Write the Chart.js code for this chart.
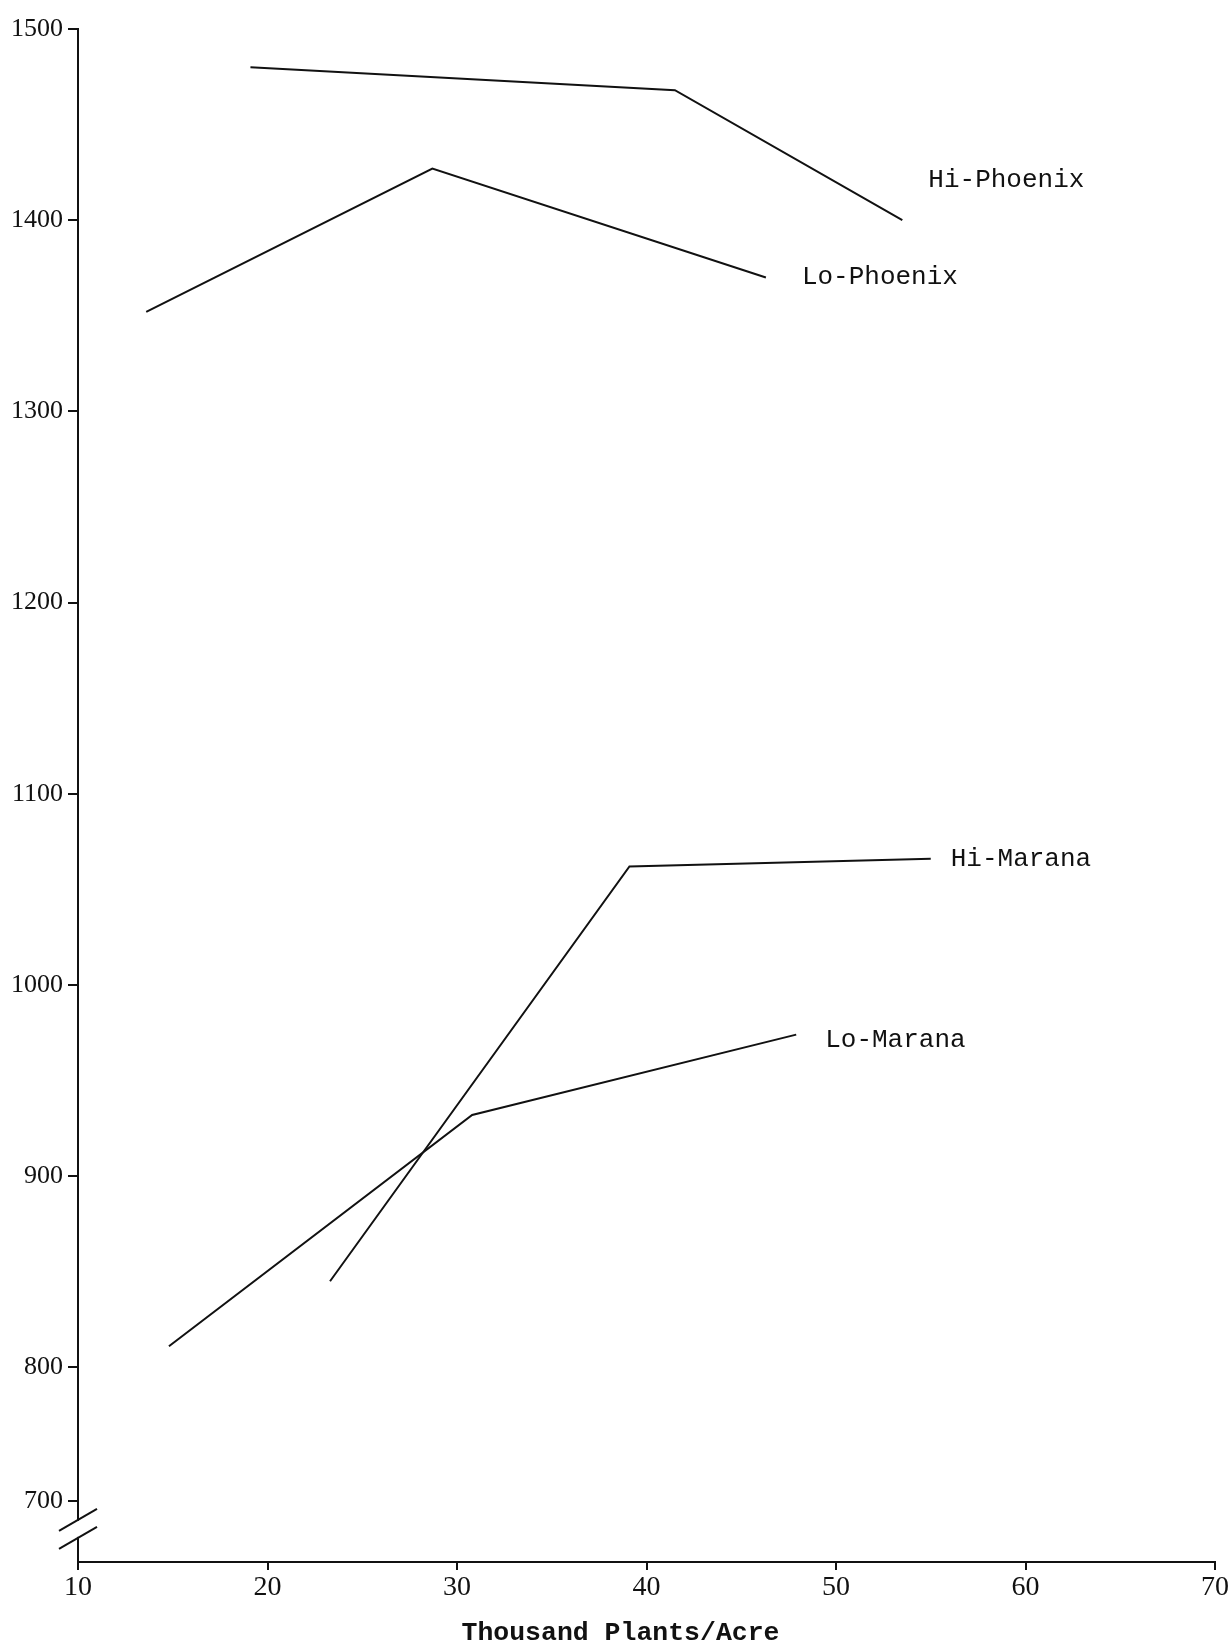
<!DOCTYPE html>
<html>
<head>
<meta charset="utf-8">
<script src="https://cdn.jsdelivr.net/npm/chart.js@4/dist/chart.umd.min.js"></script>
<style>
  body { margin: 0; background: #fff; }
  #wrap { width: 1232px; height: 1647px; position: relative; }
</style>
</head>
<body>
<div id="wrap"><canvas id="chart"></canvas></div>
<script>
// yield vs plant population, four treatments

const seriesNames = ['Hi-Phoenix', 'Lo-Phoenix', 'Hi-Marana', 'Lo-Marana'];

const hiPhoenixX = [19.1, 41.5, 53.5];
const hiPhoenixY = [1480, 1468, 1400];

const loPhoenixX = [13.6, 28.7, 46.3];
const loPhoenixY = [1352, 1427, 1370];

const hiMaranaX = [23.3, 39.1, 55.0];
const hiMaranaY = [845, 1062, 1066];

const loMaranaX = [14.8, 30.8, 47.9];
const loMaranaY = [811, 932, 974];

const xTicks = [10, 20, 30, 40, 50, 60, 70];
const yTicks = [700, 800, 900, 1000, 1100, 1200, 1300, 1400, 1500];
const xTitle = 'Thousand Plants/Acre';

// the y axis is broken below 800, so the bottom part is squeezed
// [value, share of the axis height]
const yBreaks = [[650, 0], [700, 0.040], [800, 0.127], [1500, 1]];

function toDecimal(v) {
  for (let i = 1; i < yBreaks.length; i++) {
    const [v0, d0] = yBreaks[i - 1];
    const [v1, d1] = yBreaks[i];
    if (v <= v1 || i === yBreaks.length - 1) {
      return d0 + (v - v0) / (v1 - v0) * (d1 - d0);
    }
  }
}
function fromDecimal(d) {
  for (let i = 1; i < yBreaks.length; i++) {
    const [v0, d0] = yBreaks[i - 1];
    const [v1, d1] = yBreaks[i];
    if (d <= d1 || i === yBreaks.length - 1) {
      return v0 + (d - d0) / (d1 - d0) * (v1 - v0);
    }
  }
}

class BrokenLinearScale extends Chart.LinearScale {
  getPixelForValue(value) {
    if (value === null || value === undefined || isNaN(value)) return NaN;
    return this.getPixelForDecimal(toDecimal(value));
  }
  getValueForPixel(pixel) {
    return fromDecimal(this.getDecimalForPixel(pixel));
  }
}
BrokenLinearScale.id = 'brokenLinear';
BrokenLinearScale.defaults = Chart.LinearScale.defaults;
Chart.register(BrokenLinearScale);

function points(xs, ys) {
  return xs.map((x, i) => ({ x: x, y: ys[i] }));
}

const labelOffsets = [[26, -40], [36, 0], [20, 0], [29, 5]];

const datasets = [
  points(hiPhoenixX, hiPhoenixY),
  points(loPhoenixX, loPhoenixY),
  points(hiMaranaX, hiMaranaY),
  points(loMaranaX, loMaranaY)
].map((data, i) => ({
  label: seriesNames[i],
  data: data,
  borderColor: '#111',
  borderWidth: 2,
  pointRadius: 0,
  tension: 0,
  fill: false,
  labelOffset: labelOffsets[i]
}));

// series names written at the end of each line
const endLabels = {
  id: 'endLabels',
  afterDatasetsDraw(chart) {
    const ctx = chart.ctx;
    ctx.save();
    ctx.font = '26px "Liberation Mono", "DejaVu Sans Mono", monospace';
    ctx.fillStyle = '#111';
    ctx.textBaseline = 'middle';
    ctx.textAlign = 'left';
    chart.data.datasets.forEach((ds, i) => {
      const pts = chart.getDatasetMeta(i).data;
      const last = pts[pts.length - 1];
      ctx.fillText(ds.label, last.x + ds.labelOffset[0], last.y + ds.labelOffset[1]);
    });
    ctx.restore();
  }
};

// x axis title, sits a bit left of the middle like the typed original
const axisTitle = {
  id: 'axisTitle',
  afterDraw(chart) {
    const sx = chart.scales.x;
    const ctx = chart.ctx;
    ctx.save();
    ctx.font = 'bold 26.5px "Liberation Mono", monospace';
    ctx.fillStyle = '#111';
    ctx.textAlign = 'center';
    ctx.textBaseline = 'middle';
    ctx.fillText(xTitle, (sx.left + sx.right) / 2 - 26, sx.bottom - 14);
    ctx.restore();
  }
};

// the // marks on the y axis under 700
const axisBreak = {
  id: 'axisBreak',
  afterDraw(chart) {
    const ctx = chart.ctx;
    const x = chart.chartArea.left;
    const y = chart.scales.y.getPixelForValue(677);
    ctx.save();
    ctx.fillStyle = '#fff';
    ctx.fillRect(x - 3, y - 8, 6, 16);
    ctx.strokeStyle = '#111';
    ctx.lineWidth = 2;
    [-9, 9].forEach(k => {
      ctx.beginPath();
      ctx.moveTo(x - 19, y + k + 11);
      ctx.lineTo(x + 19, y + k - 11);
      ctx.stroke();
    });
    ctx.restore();
  }
};

const ctx = document.getElementById('chart').getContext('2d');
const myChart = new Chart(ctx, {
  type: 'line',
  data: { datasets: datasets },
  options: {
    responsive: true,
    maintainAspectRatio: false,
    animation: false,
    layout: { padding: { left: 10, right: 17, top: 29, bottom: 0 } },
    plugins: {
      legend: { display: false },
      tooltip: { enabled: false }
    },
    scales: {
      x: {
        type: 'linear',
        min: 10,
        max: 70,
        afterBuildTicks: s => { s.ticks = xTicks.map(v => ({ value: v })); },
        afterFit: s => { s.height = 85; },
        grid: { display: true, drawOnChartArea: false, drawTicks: true, tickLength: 8, color: '#111', lineWidth: 2 },
        border: { display: true, color: '#111', width: 2 },
        ticks: {
          color: '#111',
          padding: 1,
          maxRotation: 0,
          font: { family: '"Liberation Serif", serif', size: 28 },
          callback: v => String(v)
        }
      },
      y: {
        type: 'brokenLinear',
        min: 650,
        max: 1500,
        afterBuildTicks: s => { s.ticks = yTicks.map(v => ({ value: v })); },
        afterFit: s => { s.width = 68; },
        grid: { display: true, drawOnChartArea: false, drawTicks: true, tickLength: 10, color: '#111', lineWidth: 2 },
        border: { display: true, color: '#111', width: 2 },
        ticks: {
          color: '#111',
          padding: 5,
          font: { family: '"Liberation Serif", serif', size: 26 },
          callback: v => String(v)
        }
      }
    }
  },
  plugins: [endLabels, axisTitle, axisBreak]
});
</script>
</body>
</html>
